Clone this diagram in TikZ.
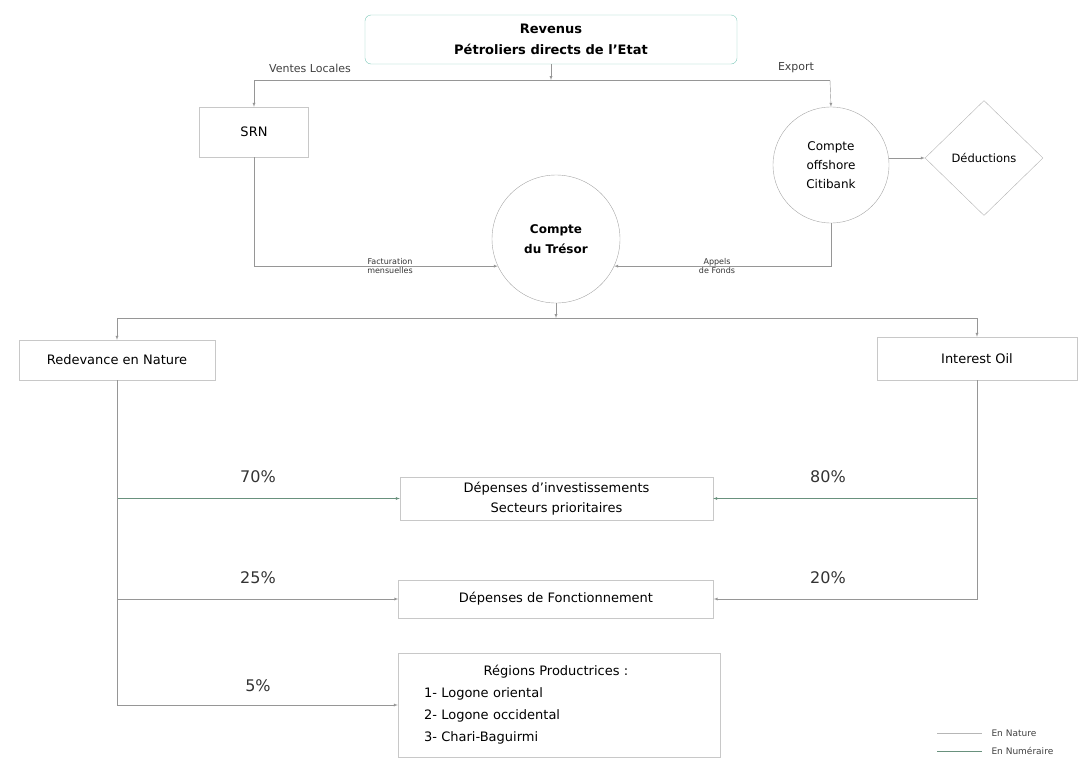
\documentclass[tikz,border=0pt]{standalone}
\usepackage{fontspec}
\setmainfont{DejaVu Sans}
\usepackage{tikz}
\usetikzlibrary{arrows,shapes,positioning}

\definecolor{grisTrait}{RGB}{150,150,150}
\definecolor{vertTrait}{RGB}{105,145,125}
\definecolor{bordBoite}{RGB}{200,200,200}
\definecolor{bordTeal}{RGB}{125,200,185}

\tikzset{
	boite/.style={draw=bordBoite, rectangle, inner sep=0pt, align=center, font=\fontsize{13}{16}\selectfont},
	rond/.style={draw=gray!70, circle, inner sep=0pt, align=center},
	fleche/.style={->,>=latex, grisTrait, thin},
	flecheV/.style={->,>=latex, vertTrait, thin},
	pct/.style={font=\fontsize{16}{18}\selectfont, text=black!80},
	petit/.style={font=\fontsize{8}{9}\selectfont, align=center, text=black!80}
}

\begin{document}
\begin{tikzpicture}[x=1pt,y=-1pt]
	
	\useasboundingbox (0,0) rectangle (1081,761);
	
	\node[boite, draw=bordTeal, rounded corners=6pt, minimum width=372, minimum height=49, font=\fontsize{13}{21}\selectfont\bfseries] (revenus) at (551,39.5) {Revenus\\Pétroliers directs de l'Etat};
	
	\coordinate (partage) at (551,80);
	\coordinate (vl) at (254,80);
	\coordinate (ex) at (830,80);
	\draw[fleche] (revenus.south) -- (partage);
	\draw[grisTrait, thin] (vl) -- (ex);
	\node[font=\fontsize{11}{12}\selectfont, text=black!75] (ventes) at (310,68) {Ventes Locales};
	\node[font=\fontsize{11}{12}\selectfont, text=black!75] (export) at (796,68) {Export};
	
	\node[boite, minimum width=109, minimum height=50] (srn) at (254,132) {SRN};
	\node[rond, minimum size=116, font=\fontsize{12}{19}\selectfont] (offshore) at (831,165) {Compte\\offshore\\Citibank};
	\node[draw=gray!60, diamond, minimum width=118, minimum height=115, inner sep=0pt, font=\fontsize{11.5}{13}\selectfont] (deduc) at (984,158) {Déductions};
	\node[rond, minimum size=128, font=\fontsize{12}{20}\selectfont\bfseries] (tresor) at (556,239) {Compte\\du Trésor};
	
	\draw[fleche] (vl) -- (srn.north);
	\draw[fleche] (ex) -- (offshore.north);
	\draw[fleche] (offshore.east |- deduc.west) -- (deduc.west);
	
	\draw[fleche] (srn.south) |- (tresor.205);
	\draw[fleche] (offshore.south) |- (tresor.-25);
	\node[petit] (factu) at (390,266) {Facturation\\mensuelles};
	\node[petit] (appels) at (717,266) {Appels\\de Fonds};
	
	\coordinate (repart) at (556,318);
	\coordinate (rg) at (117,318);
	\coordinate (rd) at (977,318);
	\draw[fleche] (tresor.south) -- (repart);
	\draw[grisTrait, thin] (rg) -- (rd);
	
	\node[boite, minimum width=196, minimum height=40] (redev) at (117,360) {Redevance en Nature};
	\node[boite, minimum width=200, minimum height=43] (interest) at (977,358.5) {Interest Oil};
	\draw[fleche] (rg) -- (redev.north);
	\draw[fleche] (rd) -- (interest.north);
	
	\node[boite, minimum width=313, minimum height=43, font=\fontsize{13}{20}\selectfont] (depinv) at (556.5,498.5) {Dépenses d’investissements\\Secteurs prioritaires};
	\node[boite, minimum width=315, minimum height=38] (depfonc) at (556,599) {Dépenses de Fonctionnement};
	\node[boite, minimum width=322, minimum height=104, text width=270pt, align=left, font=\fontsize{13}{22}\selectfont] (regions) at (559,705) {\makebox[264pt][c]{Régions Productrices :}\\1- Logone oriental\\2- Logone occidental\\3- Chari-Baguirmi};
	
	\draw[flecheV] (redev.south) |- (depinv.west);
	\draw[fleche] (redev.south) |- (depfonc.west);
	\draw[fleche] (redev.south) |- (regions.west);
	\draw[flecheV] (interest.south) |- (depinv.east);
	\draw[fleche] (interest.south) |- (depfonc.east);
	
	\node[pct] (p70) at (258,477) {70\%};
	\node[pct] (p25) at (258,578) {25\%};
	\node[pct] (p5) at (258,686) {5\%};
	\node[pct] (p80) at (828,477) {80\%};
	\node[pct] (p20) at (828,578) {20\%};
	
	% legende
	\coordinate (ln1) at (937,733);
	\coordinate (ln2) at (937,751);
	\draw[grisTrait!70, thin] (ln1) -- ++(45,0) node[right=6pt, black!75, font=\fontsize{9}{10}\selectfont] (nature) {En Nature};
	\draw[vertTrait, thin] (ln2) -- ++(45,0) node[right=6pt, black!75, font=\fontsize{9}{10}\selectfont] (numer) {En Numéraire};
	
\end{tikzpicture}
\end{document}
